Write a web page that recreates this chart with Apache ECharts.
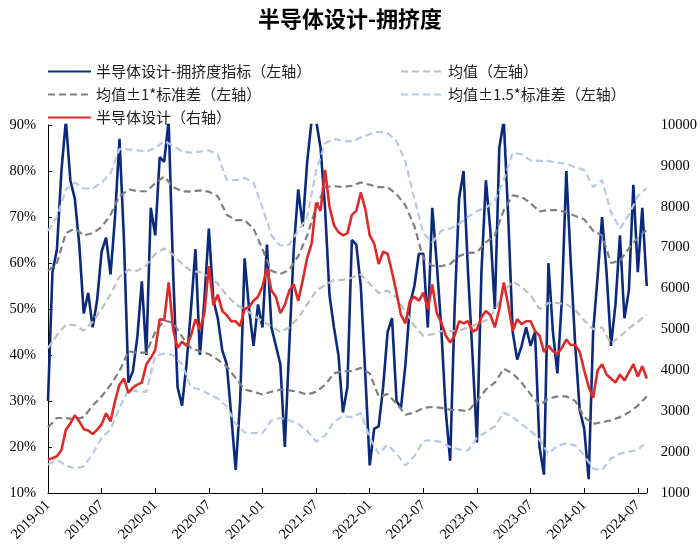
<!DOCTYPE html>
<html><head><meta charset="utf-8">
<script src="https://cdn.jsdelivr.net/npm/echarts@6/dist/echarts.min.js"></script>
<style>html,body{margin:0;padding:0;background:#fff}#c{width:700px;height:560px}</style>
</head><body><div id="c"></div>
<script>
// x positions are months since 2019-01; tick labels every 6 months
const tickLabels = ['2019-01','2019-07','2020-01','2020-07','2021-01','2021-07','2022-01','2022-07','2023-01','2023-07','2024-01','2024-07'];
const halfMonthStep = 0.5;   // crowding & price sampled twice a month
const monthStep = 1;         // bands sampled monthly

// 半导体设计-拥挤度指标 (%), left axis
const crowding = [
 30, 58, 63, 80, 91, 78, 74, 64, 49, 53.5,
 46, 52, 62.5, 65.5, 57.5, 70, 87, 65, 34, 36.5,
 44, 56, 40, 72, 66, 83, 82, 91, 58, 33,
 29, 38, 50, 63, 40, 52, 67.5, 52, 48, 41,
 38, 27, 15, 30, 61, 50, 42, 51, 46, 64,
 46, 42, 38, 20, 42, 63, 76, 68, 82, 91,
 91, 85, 72, 53, 46, 40, 27.5, 33, 65, 64,
 55, 36, 16, 24, 24.5, 33, 45, 48, 30, 28.5,
 38, 51, 55, 62, 62, 46, 72, 60, 46, 28,
 17, 50, 74, 80, 58, 40, 21, 58, 78, 67,
 50, 85, 91, 70, 45, 39, 42, 46, 42, 45,
 20, 14, 60, 45, 36, 52, 80, 60, 42, 28,
 24, 13, 45, 57, 70, 58, 42, 51, 66, 48,
 54, 77, 58, 72, 55
];
// 半导体设计 index, right axis
const price = [
 1820, 1850, 1900, 2050, 2550, 2700, 2900, 2750, 2560, 2530,
 2440, 2550, 2680, 2950, 2750, 3250, 3650, 3800, 3450, 3580,
 3650, 3700, 4150, 4300, 4500, 5250, 5230, 6150, 5000, 4550,
 4700, 4600, 4850, 5250, 5000, 5400, 6550, 5600, 5850, 5450,
 5350, 5200, 5200, 5080, 5500, 5550, 5700, 5800, 6050, 6500,
 5950, 5800, 5400, 5600, 5950, 6100, 5700, 6200, 6750, 7100,
 8100, 7900, 8900, 8000, 7550, 7380, 7300, 7350, 7800, 7900,
 8350, 7950, 7300, 7100, 6600, 6900, 6850, 6400, 5900, 5350,
 5150, 5700, 5800, 5700, 5900, 5500, 6100, 5400, 5180, 4850,
 4680, 4850, 5200, 5150, 5200, 4950, 5000, 5300, 5450, 5350,
 5050, 5500, 6150, 5600, 4960, 5250, 5130, 5200, 5200, 4960,
 4850, 4450, 4600, 4470, 4400, 4550, 4750, 4620, 4620, 4450,
 4000, 3600, 3330, 4000, 4150, 3900, 3800, 3700, 3900, 3750,
 3950, 4150, 3850, 4100, 3800
];
const meanLine = [
 41.5, 44.3, 46.6, 46.5, 45.3, 47.2, 50, 53.2, 57, 58.5,
 58.3, 59.5, 62, 63.2, 61.8, 59.8, 58.3, 58, 57, 55.5,
 53, 51, 50, 48.6, 47.4, 46.2, 45, 46, 48, 51,
 53.9, 55.2, 56.3, 56.3, 56.8, 57.5, 55.5, 53.5, 54, 52.5,
 49.5, 46.3, 44.2, 44.5, 45.2, 45.2, 45.3, 46, 46.7, 47.5,
 49.6, 53.9, 56, 54.8, 53, 50, 51.3, 51.3, 51, 49.8,
 47.5, 45.6, 46, 42.5, 44, 45.8, 47.2, 48.8
];
const upper1 = [
 58.3, 60, 66.5, 67.5, 66, 66.5, 67.8, 70.5, 74.5, 76,
 75.6, 75.6, 77.3, 78.8, 76.5, 75.6, 75.5, 75.8, 75.5, 74.5,
 70.5, 69.3, 69.3, 67.5, 63, 58.3, 57.6, 58.5, 61.5, 66,
 72, 76.5, 76.7, 76.5, 76.8, 77.5, 77, 76.5, 76.5, 75,
 72.5, 68, 61, 59.4, 59.3, 59.8, 61.5, 62.2, 62.3, 64.5,
 66, 71.5, 74.7, 74.4, 73, 71.2, 71.5, 71.5, 71, 70.2,
 69.5, 67, 66, 60, 60.5, 63.2, 65.5, 67.2
];
const lower1 = [
 24.3, 26.3, 26.3, 26, 26.5, 29, 31, 33.5, 36.5, 40.8,
 40.5, 40.5, 45, 47.5, 47, 44, 41.5, 40.8, 40.2, 39,
 37.5, 35, 32.5, 32, 31.4, 32, 32.5, 32.3, 32, 31.4,
 32, 33.5, 36, 36.5, 36.5, 37.2, 36, 31, 31.5, 29.5,
 27, 27.5, 28.5, 28.7, 28.5, 28.1, 28, 27.8, 30, 32.5,
 34, 37, 36, 34, 31.5, 29, 30.5, 31, 31, 30,
 26.5, 25, 25.4, 25.8, 26.5, 27.5, 29, 31
];
const upper15 = [
 67, 70, 76, 77.5, 76.2, 76.2, 77.5, 79.5, 84.8, 84.7,
 84.5, 84.2, 85, 86.5, 85.5, 84.2, 84, 84.2, 84.5, 83.5,
 78, 78, 78.5, 77.5, 72, 66, 63.8, 64, 67, 70,
 80, 86, 87, 86.5, 86.5, 87.3, 88, 88.5, 88.3, 86.5,
 82, 74, 66.5, 64.5, 67, 67.5, 68.5, 70, 71.3, 72,
 73.5, 78, 84, 83.6, 82.3, 82.2, 82.2, 81.8, 81.6, 80.8,
 80.2, 76.5, 78, 71, 67.5, 70.5, 74.5, 76.3
];
const lower15 = [
 16.2, 17.2, 16, 15.3, 15.8, 18.5, 22, 23.8, 28.5, 32.5,
 32.1, 32, 39.8, 40.3, 40, 38, 33, 32.5, 31.5, 30.5,
 28.8, 25, 23.2, 23, 23, 25.8, 26.3, 25.8, 25, 23.5,
 21.2, 22.5, 25.5, 26.7, 26.5, 27.4, 22, 18.5, 20.5, 18.5,
 16, 18, 21.3, 21.5, 21, 20, 19.5, 19.2, 22, 23.2,
 24.5, 27.5, 26.5, 25, 23.5, 21.6, 18.5, 20.3, 20.8, 20.3,
 18.2, 15.3, 15, 17.5, 18.5, 19, 19.3, 21.2
];

const names = {
  crowd: '半导体设计-拥挤度指标（左轴）',
  mean: '均值（左轴）',
  sd1: '均值±1*标准差（左轴）',
  sd15: '均值±1.5*标准差（左轴）',
  price: '半导体设计（右轴）'
};
const colors = { crowd: '#0c2a7c', mean: '#bfbfbf', sd1: '#7f7f7f', sd15: '#b9c8e4', price: '#e02a2a' };

const pairs = (arr, step) => arr.map((v, i) => [i * step, v]);
const numFont = "'Liberation Serif','Times New Roman',serif";
const cjkFont = "'Noto Sans CJK SC','Noto Sans',sans-serif";
const dash = [7, 4];

function bandSeries(name, arr, color) {
  return { name, type: 'line', yAxisIndex: 0, data: pairs(arr, monthStep), symbol: 'none',
    lineStyle: { color, width: 2.2, type: dash }, itemStyle: { color } };
}

const legendCommon = {
  orient: 'vertical', padding: 0, itemHeight: 14, itemGap: 8,
  itemStyle: { opacity: 0 },
  textStyle: { fontFamily: cjkFont, fontSize: 15, color: '#222' }
};

const chart = echarts.init(document.getElementById('c'), null, { renderer: 'canvas' });
chart.setOption({
  animation: false,
  backgroundColor: '#fff',
  title: { text: '半导体设计-拥挤度', left: 'center', top: 3,
    textStyle: { fontFamily: cjkFont, fontSize: 22, fontWeight: 'bold', color: '#000' } },
  legend: [
    Object.assign({ left: 47, top: 64, itemWidth: 43, data: [names.crowd, names.sd1, names.price] }, legendCommon),
    Object.assign({ left: 400, top: 64, itemWidth: 42, data: [names.mean, names.sd15] }, legendCommon)
  ],
  grid: { left: 48, right: 52, top: 125, bottom: 67, containLabel: false },
  xAxis: {
    type: 'value', min: 0, max: 67, interval: 6,
    axisLine: { show: true, lineStyle: { color: '#000', width: 1 } },
    axisTick: { show: true, inside: true, length: 5, lineStyle: { color: '#000' } },
    splitLine: { show: false },
    axisLabel: { rotate: 45, margin: 10, color: '#000', fontFamily: numFont, fontSize: 14.5,
      formatter: v => (v % 6 === 0 ? (tickLabels[v / 6] || '') : '') }
  },
  yAxis: [
    { type: 'value', min: 10, max: 90, interval: 10, position: 'left',
      axisLine: { show: true, lineStyle: { color: '#000', width: 1 } },
      axisTick: { show: true, inside: true, length: 4, lineStyle: { color: '#000' } },
      splitLine: { show: false },
      axisLabel: { formatter: v => v + '%', color: '#000', fontFamily: numFont, fontSize: 14.5, margin: 12 } },
    { type: 'value', min: 1000, max: 10000, interval: 1000, position: 'right',
      axisLine: { show: false }, axisTick: { show: false }, splitLine: { show: false },
      axisLabel: { formatter: v => String(v), color: '#000', fontFamily: numFont, fontSize: 14.5, margin: 14 } }
  ],
  series: [
    { name: names.crowd, type: 'line', yAxisIndex: 0, data: pairs(crowding, halfMonthStep), symbol: 'none',
      lineStyle: { color: colors.crowd, width: 2.6 }, itemStyle: { color: colors.crowd } },
    bandSeries(names.mean, meanLine, colors.mean),
    bandSeries(names.sd1, upper1, colors.sd1),
    bandSeries(names.sd1, lower1, colors.sd1),
    bandSeries(names.sd15, upper15, colors.sd15),
    bandSeries(names.sd15, lower15, colors.sd15),
    { name: names.price, type: 'line', yAxisIndex: 1, data: pairs(price, halfMonthStep), symbol: 'none',
      lineStyle: { color: colors.price, width: 2.6 }, itemStyle: { color: colors.price } }
  ]
});
</script>
</body></html>
